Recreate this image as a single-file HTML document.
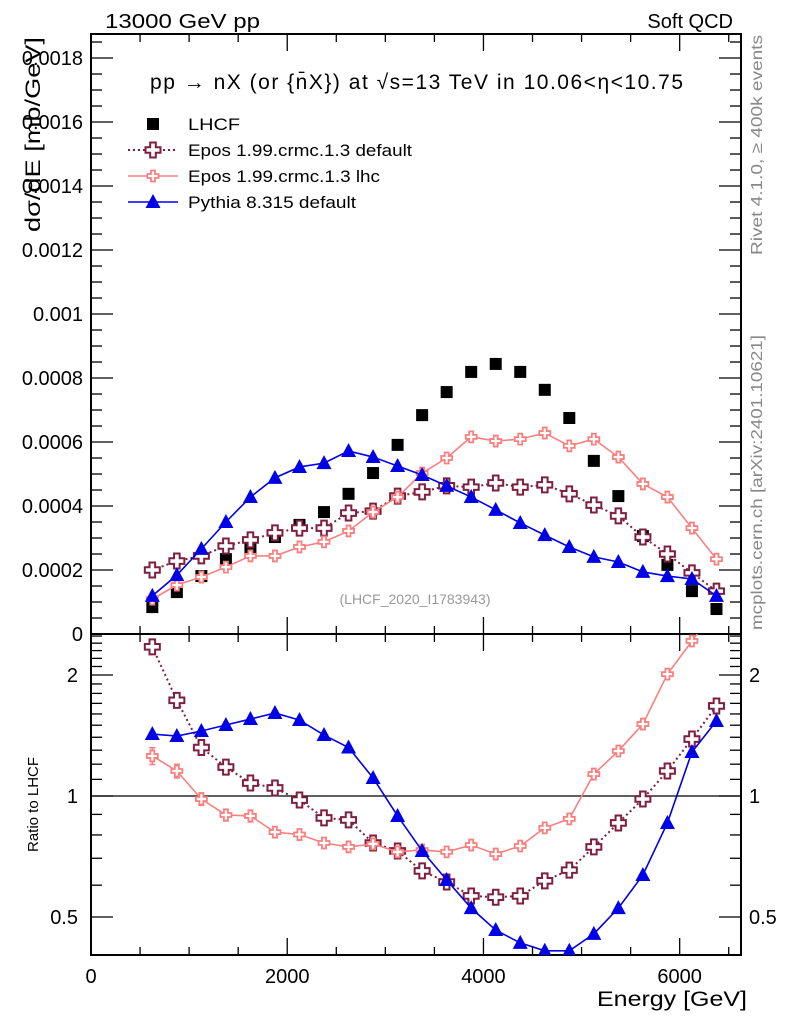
<!DOCTYPE html>
<html><head><meta charset="utf-8">
<style>
html,body{margin:0;padding:0;background:#fff;}
svg{display:block;font-family:"Liberation Sans",sans-serif;}
</style></head>
<body>
<svg id="chart" width="786" height="1024" viewBox="0 0 786 1024" xmlns="http://www.w3.org/2000/svg">
<defs>
<clipPath id="clipMain"><rect x="91" y="34" width="650" height="600"/></clipPath>
<clipPath id="clipRatio"><rect x="91" y="634" width="650" height="321"/></clipPath>
</defs>
<text x="105" y="28" font-size="20" textLength="155" lengthAdjust="spacingAndGlyphs">13000 GeV pp</text>
<text x="733" y="28" font-size="20" text-anchor="end">Soft QCD</text>
<text x="150" y="89" font-size="21" textLength="533" lengthAdjust="spacing">pp → nX (or {n̄X}) at √s=13 TeV in 10.06&lt;η&lt;10.75</text>
<text x="415" y="604" font-size="14" fill="#999" text-anchor="middle">(LHCF_2020_I1783943)</text>
<text transform="translate(762,255) rotate(-90)" font-size="16" fill="#888" textLength="220" lengthAdjust="spacingAndGlyphs">Rivet 4.1.0, ≥ 400k events</text>
<text transform="translate(762,630) rotate(-90)" font-size="16" fill="#888" textLength="295" lengthAdjust="spacingAndGlyphs">mcplots.cern.ch [arXiv:2401.10621]</text>
<text transform="translate(40,232) rotate(-90)" font-size="21" textLength="195" lengthAdjust="spacingAndGlyphs">dσ/dE [mb/GeV]</text>
<text transform="translate(38,852) rotate(-90)" font-size="15">Ratio to LHCF</text>
<text x="747" y="1006" font-size="21" text-anchor="end" textLength="150" lengthAdjust="spacingAndGlyphs">Energy [GeV]</text>
<g id="axes"></g>
<g id="marks"></g>
<g id="legend"></g>
</svg>
<script>
const energies = [625,875,1125,1375,1625,1875,2125,2375,2625,2875,3125,3375,3625,3875,4125,4375,4625,4875,5125,5375,5625,5875,6125,6375];
// values in units of 1e-4 mb/GeV
const lhcf = [0.84,1.31,1.81,2.34,2.72,3.03,3.41,3.81,4.38,5.03,5.91,6.84,7.56,8.19,8.44,8.19,7.63,6.75,5.41,4.31,3.06,2.16,1.34,0.78];
const eposDefault = [2.00,2.28,2.44,2.75,2.94,3.16,3.31,3.31,3.78,3.84,4.31,4.44,4.63,4.59,4.72,4.59,4.66,4.38,4.03,3.69,3.03,2.50,1.91,1.34];
const eposLhc = [1.09,1.53,1.78,2.09,2.44,2.44,2.72,2.88,3.22,3.81,4.28,5.03,5.50,6.16,6.03,6.09,6.28,5.88,6.09,5.53,4.69,4.28,3.31,2.34];
const pythia = [1.19,1.84,2.66,3.50,4.28,4.88,5.22,5.34,5.72,5.53,5.25,4.97,4.63,4.28,3.88,3.47,3.09,2.72,2.41,2.25,1.94,1.81,1.72,1.19];
const ratioDefault = [2.35,1.73,1.32,1.18,1.077,1.047,0.977,0.882,0.872,0.764,0.730,0.651,0.611,0.564,0.560,0.564,0.615,0.654,0.747,0.857,0.983,1.154,1.386,1.675];
const ratioLhc = [1.258,1.154,0.983,0.897,0.892,0.813,0.802,0.764,0.747,0.760,0.726,0.734,0.726,0.755,0.717,0.751,0.833,0.877,1.134,1.294,1.51,2.01,2.43,2.95];
const ratioLhcErr = [0.06,0.045,0.035,0.03,0.03,0.025,0.025,0.02,0.02,0.02,0.015,0.015,0.015,0.015,0.015,0.015,0.015,0.015,0.02,0.02,0.03,0.03,0.04,0.05];
const ratioPythia = [1.426,1.41,1.451,1.502,1.554,1.609,1.545,1.418,1.32,1.109,0.892,0.73,0.618,0.526,0.464,0.431,0.412,0.412,0.454,0.526,0.636,0.857,1.287,1.537];
const xTickLabels = ["0","2000","4000","6000"];
const yTickLabels = ["0","0.0002","0.0004","0.0006","0.0008","0.001","0.0012","0.0014","0.0016","0.0018"];
const ratioTickLabels = ["0.5","1","2"];

const NS="http://www.w3.org/2000/svg";
const X0=91, X1=741, XMAX=6625;
const MT=34, MB=634, RT=634, RB=955;
const xS = e => X0 + (e/XMAX)*(X1-X0);
const yM = v => MB - v*32;
const yR = r => 796 - 121*Math.log2(r);
function el(tag, attrs, parent){const n=document.createElementNS(NS,tag);for(const k in attrs)n.setAttribute(k,attrs[k]);parent.appendChild(n);return n;}
const axes=document.getElementById('axes'), marks=document.getElementById('marks'), legend=document.getElementById('legend');

let f1=el('rect',{x:X0,y:MT,width:X1-X0,height:MB-MT,fill:'none',stroke:'#000','stroke-width':2},axes);


let f2=el('rect',{x:X0,y:RT,width:X1-X0,height:RB-RT,fill:'none',stroke:'#000','stroke-width':2},axes);


for(let e=0;e<=XMAX;e+=500){
  const x=xS(e), maj=(e%2000===0), L=maj?17:8;
  for(const [t,b] of [[MT,MB],[RT,RB]]){
    el('line',{x1:x,y1:t,x2:x,y2:t+L,stroke:'#000','stroke-width':1.3},axes);
    el('line',{x1:x,y1:b,x2:x,y2:b-L,stroke:'#000','stroke-width':1.3},axes);
  }
}
xTickLabels.forEach(s=>{
  const t=el('text',{x:xS(+s),y:983,'font-size':20,'text-anchor':'middle'},axes);t.textContent=s;
  
  
});
for(let i=0;i<=37;i++){
  const v=i*0.5, y=yM(v); if(y<MT) break;
  const maj=(i%4===0), L=maj?22:11;
  el('line',{x1:X0,y1:y,x2:X0+L,y2:y,stroke:'#000','stroke-width':1.3},axes);
  el('line',{x1:X1,y1:y,x2:X1-L,y2:y,stroke:'#000','stroke-width':1.3},axes);
}
yTickLabels.forEach(s=>{
  const t=el('text',{x:83,y:yM(parseFloat(s)*1e4)+7,'font-size':20,'text-anchor':'end'},axes);t.textContent=s;
  
  
});
for(let r=0.4;r<=2.55;r+=0.1){
  const rr=Math.round(r*10)/10, y=yR(rr); if(y<RT||y>RB) continue;
  const maj=(rr===0.5||rr===1||rr===2), L=maj?22:11;
  el('line',{x1:X0,y1:y,x2:X0+L,y2:y,stroke:'#000','stroke-width':1.3},axes);
  el('line',{x1:X1,y1:y,x2:X1-L,y2:y,stroke:'#000','stroke-width':1.3},axes);
}
ratioTickLabels.forEach(s=>{
  const y=yR(parseFloat(s))+7;
  const t=el('text',{x:78,y:y,'font-size':20,'text-anchor':'end'},axes);t.textContent=s;
  
  
  const t2=el('text',{x:749,y:y,'font-size':20},axes);t2.textContent=s;
  
  
});
let one=el('line',{x1:X0,y1:yR(1),x2:X1,y2:yR(1),stroke:'#000','stroke-width':1.3},axes);



const RED='#7f1f3f', PINK='#fa8080', BLUE='#0000e6';
function crossPath(x,y,h,a){return `M${x-a},${y-h}H${x+a}V${y-a}H${x+h}V${y+a}H${x+a}V${y+h}H${x-a}V${y+a}H${x-h}V${y-a}H${x-a}Z`;}
function marker(type,x,y,g){
  if(type==='sq') return el('rect',{x:x-6,y:y-6,width:12,height:12,fill:'#000'},g);
  if(type==='cr') return el('path',{d:crossPath(x,y,7.5,2.8),fill:'#fff',stroke:RED,'stroke-width':2},g);
  if(type==='crs') return el('path',{d:crossPath(x,y,5.5,2),fill:'#fff',stroke:PINK,'stroke-width':1.8},g);
  if(type==='tri') return el('path',{d:`M${x},${y-8}L${x+7.5},${y+6}L${x-7.5},${y+6}Z`,fill:BLUE},g);
}
function series(name,xs,ys,color,dash,type,clip,errs){
  const g=el('g',{'clip-path':`url(#${clip})`},marks);
  
  
  if(color){
    const pts=xs.map((x,i)=>`${x},${ys[i]}`).join(' ');
    const pl=el('polyline',{points:pts,fill:'none',stroke:color,'stroke-width':dash?2:1.6},g);
    if(dash) pl.setAttribute('stroke-dasharray','2,3');
  }
  if(errs){errs.forEach((e,i)=>{if(!e)return;
    el('line',{x1:xs[i],y1:e[0],x2:xs[i],y2:e[1],stroke:color,'stroke-width':1.6},g);
    el('line',{x1:xs[i]-3,y1:e[0],x2:xs[i]+3,y2:e[0],stroke:color,'stroke-width':1.6},g);
    el('line',{x1:xs[i]-3,y1:e[1],x2:xs[i]+3,y2:e[1],stroke:color,'stroke-width':1.6},g);
  });}
  xs.forEach((x,i)=>{
    const m=marker(type,x,ys[i],g);
    
    
  });
}
const xs=energies.map(xS);
series('lhcf-series',xs,lhcf.map(yM),null,false,'sq','clipMain');
series('epos-default-series',xs,eposDefault.map(yM),RED,true,'cr','clipMain');
series('epos-lhc-series',xs,eposLhc.map(yM),PINK,false,'crs','clipMain');
series('pythia-series',xs,pythia.map(yM),BLUE,false,'tri','clipMain');
series('epos-default-ratio',xs,ratioDefault.map(yR),RED,true,'cr','clipRatio');
series('epos-lhc-ratio',xs,ratioLhc.map(yR),PINK,false,'crs','clipRatio',ratioLhc.map((r,i)=>[yR(r+ratioLhcErr[i]),yR(r-ratioLhcErr[i])]));
series('pythia-ratio',xs,ratioPythia.map(yR),BLUE,false,'tri','clipRatio');

const leg=[['LHCF',null,false,'sq',52],['Epos 1.99.crmc.1.3 default',RED,true,'cr',224],['Epos 1.99.crmc.1.3 lhc',PINK,false,'crs',192],['Pythia 8.315 default',BLUE,false,'tri',168]];
leg.forEach((d,i)=>{
  const y=124+i*26;
  const g=el('g',{},legend);
  
  
  if(d[1]){const l=el('line',{x1:128,y1:y,x2:178,y2:y,stroke:d[1],'stroke-width':d[2]?2:1.6},g); if(d[2]) l.setAttribute('stroke-dasharray','2,3');}
  marker(d[3],153,y,g);
  const t=el('text',{x:188,y:y+6,'font-size':17,textLength:d[4],lengthAdjust:'spacingAndGlyphs'},g);t.textContent=d[0];
});
</script>
</body></html>
